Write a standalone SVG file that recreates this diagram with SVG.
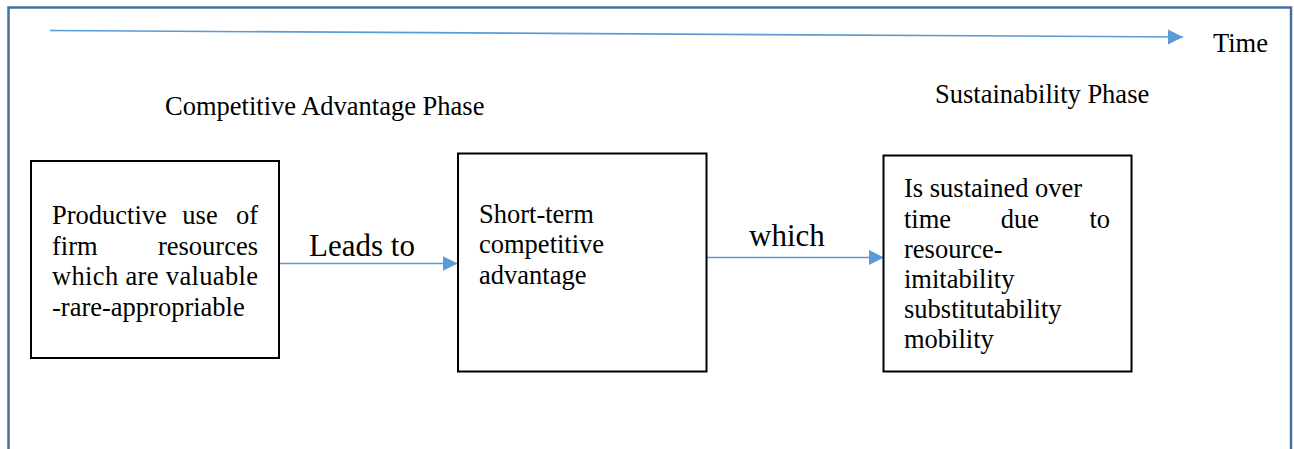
<svg xmlns="http://www.w3.org/2000/svg" width="1294" height="449" viewBox="0 0 1294 449">
  <defs>
    <marker id="arrow" viewBox="0 0 16 16" refX="15" refY="8" markerWidth="16" markerHeight="16" markerUnits="userSpaceOnUse" orient="auto">
      <path d="M0,0.5 L15,8 L0,15.5 Z" fill="#5b9bd5"/>
    </marker>
    <style>
      .frame { fill: none; stroke: #41719c; stroke-width: 2.5; }
      .box { fill: #ffffff; stroke: #000000; stroke-width: 2; }
      .txt { font-family: "Liberation Serif", "Times New Roman", serif; font-size: 26.5px; fill: #000000; }
      .lbl { font-family: "Liberation Serif", "Times New Roman", serif; font-size: 31px; fill: #000000; }
      .conn { fill: none; stroke: #5b9bd5; stroke-width: 1.6; marker-end: url(#arrow); }
    </style>
  </defs>

  <rect width="1294" height="449" fill="#ffffff"/>

  <!-- outer frame, open at the bottom -->
  <path class="frame" d="M8.5,452 L8.5,7.5 L1291,7.5 L1291,452"/>

  <!-- time axis -->
  <g id="time-axis">
    <line class="conn" x1="50" y1="30.5" x2="1183" y2="37"/>
    <text class="txt" x="1213" y="51.5">Time</text>
  </g>

  <!-- phase headings -->
  <g id="phase-competitive">
    <text class="txt" x="165" y="114.5">Competitive Advantage Phase</text>
  </g>
  <g id="phase-sustainability">
    <text class="txt" x="935" y="103">Sustainability Phase</text>
  </g>

  <!-- connectors -->
  <g id="connectors">
    <line class="conn" x1="280" y1="263.5" x2="457.5" y2="263.5"/>
    <text class="lbl" x="309" y="256">Leads to</text>
    <line class="conn" x1="707" y1="257.5" x2="884" y2="257.5"/>
    <text class="lbl" x="749" y="246">which</text>
  </g>

  <!-- node: productive use of resources -->
  <g id="node-resources">
    <rect class="box" x="31" y="161" width="248" height="197"/>
    <text class="txt" y="224">
      <tspan x="52">Productive</tspan><tspan x="200" text-anchor="middle">use</tspan><tspan x="258" text-anchor="end">of</tspan>
    </text>
    <text class="txt" y="254.5">
      <tspan x="52">firm</tspan><tspan x="258" text-anchor="end">resources</tspan>
    </text>
    <text class="txt" x="52" y="285" textLength="206" lengthAdjust="spacing">which are valuable</text>
    <text class="txt" x="52" y="315.5">-rare-appropriable</text>
  </g>

  <!-- node: short-term competitive advantage -->
  <g id="node-advantage">
    <rect class="box" x="458" y="153.5" width="248.5" height="218"/>
    <text class="txt" x="479" y="222.5">Short-term</text>
    <text class="txt" x="479" y="253">competitive</text>
    <text class="txt" x="479" y="283.5">advantage</text>
  </g>

  <!-- node: sustained over time -->
  <g id="node-sustained">
    <rect class="box" x="883.5" y="155.5" width="248" height="216"/>
    <text class="txt" x="904" y="197">Is sustained over</text>
    <text class="txt" y="227.5">
      <tspan x="904">time</tspan><tspan x="1020" text-anchor="middle">due</tspan><tspan x="1110" text-anchor="end">to</tspan>
    </text>
    <text class="txt" x="904" y="257.5">resource-</text>
    <text class="txt" x="904" y="287.5">imitability</text>
    <text class="txt" x="904" y="318">substitutability</text>
    <text class="txt" x="904" y="348">mobility</text>
  </g>
</svg>
